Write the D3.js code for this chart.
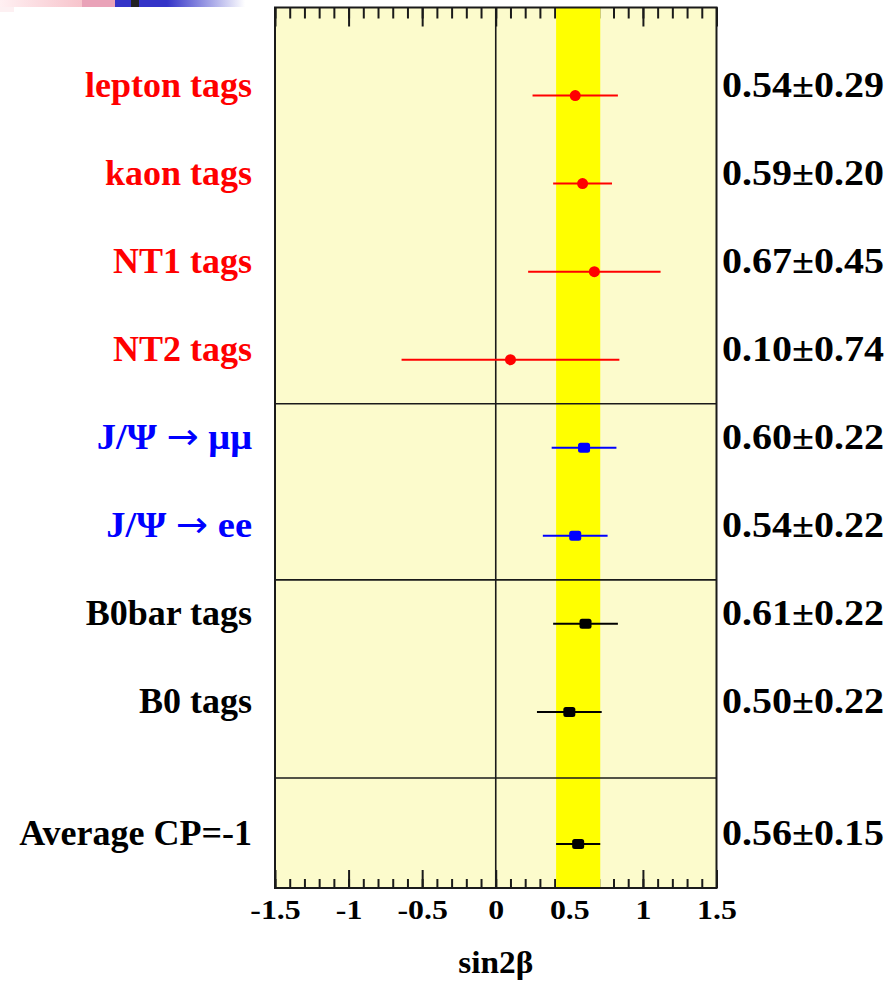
<!DOCTYPE html>
<html>
<head>
<meta charset="utf-8">
<script src="https://cdn.jsdelivr.net/npm/d3@7"></script>
<style>
  html, body { margin: 0; padding: 0; background: #ffffff; }
  svg { display: block; }
</style>
</head>
<body>
<svg id="chart" width="890" height="981"></svg>
<script>
// Measurements of sin2β by tagging category and sample
const labels = ["lepton tags", "kaon tags", "NT1 tags", "NT2 tags",
                "J/Ψ → μμ", "J/Ψ → ee", "B0bar tags", "B0 tags", "Average CP=-1"];
const centralValues = [0.54, 0.59, 0.67, 0.10, 0.60, 0.54, 0.61, 0.50, 0.56];
const errors        = [0.29, 0.20, 0.45, 0.74, 0.22, 0.22, 0.22, 0.22, 0.15];
const rowPositions  = [0, 1, 2, 3, 4, 5, 6, 7, 8.5];
const groups        = ["tag", "tag", "tag", "tag", "mode", "mode", "flavour", "flavour", "avg"];
const separators    = [3.5, 5.5, 7.75];
const tickValues    = [-1.5, -1, -0.5, 0, 0.5, 1, 1.5];
const tickLabels    = ["-1.5", "-1", "-0.5", "0", "0.5", "1", "1.5"];
const minorTicks    = d3.range(-15, 16).map(d => d / 10);
const averageIndex  = 8;

const groupColor = { tag: "#ff0000", mode: "#0000ff", flavour: "#000000", avg: "#000000" };
const SERIF = "'Liberation Serif', 'Times New Roman', 'DejaVu Serif', serif";

const svg = d3.select("#chart");

// slide header decoration
const defs = svg.append("defs");
const fade = defs.append("linearGradient").attr("id", "blueFade");
fade.append("stop").attr("offset", "0%").attr("stop-color", "#3434c8");
fade.append("stop").attr("offset", "40%").attr("stop-color", "#3434c8");
fade.append("stop").attr("offset", "100%").attr("stop-color", "#ffffff");
const pink = defs.append("linearGradient").attr("id", "pinkFade");
pink.append("stop").attr("offset", "0%").attr("stop-color", "#fff0f2");
pink.append("stop").attr("offset", "100%").attr("stop-color", "#f7c4cc");
svg.append("rect").attr("x", 0).attr("y", 0).attr("width", 82).attr("height", 7).attr("fill", "url(#pinkFade)");
svg.append("rect").attr("x", 82).attr("y", 0).attr("width", 33).attr("height", 7).attr("fill", "#e9a2b8");
svg.append("rect").attr("x", 0).attr("y", 7).attr("width", 14).attr("height", 5).attr("fill", "#fdf0f2");
svg.append("rect").attr("x", 115).attr("y", 0).attr("width", 130).attr("height", 7).attr("fill", "url(#blueFade)");
svg.append("rect").attr("x", 131).attr("y", 0).attr("width", 8).attr("height", 7).attr("fill", "#222222");

// plot frame
const x0 = 275, x1 = 716.5, y0 = 7.5, y1 = 888;
const x = d3.scaleLinear().domain([-1.5, 1.5]).range([x0, x1]);
const y = d3.scaleLinear().domain([-1, 9]).range([y0, y1]);

svg.append("rect")
  .attr("x", x0).attr("y", y0).attr("width", x1 - x0).attr("height", y1 - y0)
  .attr("fill", "#fcfbcc");

// tick marks along top and bottom
function drawTicks(axisFn, yPos, values, size, labelsOn) {
  const ax = axisFn(x).tickValues(values).tickSizeInner(-size).tickSizeOuter(0)
    .tickFormat(labelsOn ? ((d, i) => tickLabels[i]) : "");
  const g = svg.append("g").attr("transform", `translate(0,${yPos})`).call(ax);
  g.select(".domain").remove();
  g.selectAll(".tick line").attr("stroke", "#1a1a1a").attr("stroke-width", 2);
  return g;
}
drawTicks(d3.axisTop, y0, minorTicks, 11, false);
drawTicks(d3.axisTop, y0, tickValues, 19, false);
drawTicks(d3.axisBottom, y1, minorTicks, 9, false);
const bottomMajor = drawTicks(d3.axisBottom, y1, tickValues, 18, true);
bottomMajor.attr("font-family", null).attr("font-size", null);
bottomMajor.selectAll(".tick text")
  .attr("y", 31).attr("dy", 0)
  .attr("fill", "#000")
  .style("font-family", SERIF)
  .style("font-weight", "bold")
  .style("font-size", "27px")
  .each(function () {
    const w = this.getComputedTextLength();
    d3.select(this).attr("textLength", w * 1.18).attr("lengthAdjust", "spacingAndGlyphs");
  });

// average band
const avg = centralValues[averageIndex], avgErr = errors[averageIndex];
svg.append("rect")
  .attr("x", x(avg - avgErr)).attr("y", y0)
  .attr("width", x(avg + avgErr) - x(avg - avgErr)).attr("height", y1 - y0)
  .attr("fill", "#ffff00");

// zero line
svg.append("line")
  .attr("x1", x(0)).attr("x2", x(0)).attr("y1", y0).attr("y2", y1)
  .attr("stroke", "#1a1a1a").attr("stroke-width", 1.6);

// group separators
svg.selectAll(".sep").data(separators).enter().append("line")
  .attr("x1", x0).attr("x2", x1)
  .attr("y1", d => y(d)).attr("y2", d => y(d))
  .attr("stroke", "#1a1a1a").attr("stroke-width", 1.6);

// frame outline
svg.append("rect")
  .attr("x", x0).attr("y", y0).attr("width", x1 - x0).attr("height", y1 - y0)
  .attr("fill", "none").attr("stroke", "#1a1a1a").attr("stroke-width", 2);

// error bars and markers
const rows = labels.map((l, i) => ({
  label: l, v: centralValues[i], e: errors[i], pos: rowPositions[i], color: groupColor[groups[i]], group: groups[i]
}));

svg.selectAll(".err").data(rows).enter().append("line")
  .attr("x1", d => x(d.v - d.e)).attr("x2", d => x(d.v + d.e))
  .attr("y1", d => y(d.pos)).attr("y2", d => y(d.pos))
  .attr("stroke", d => d.color).attr("stroke-width", 2);

svg.selectAll(".dot").data(rows.filter(d => d.group === "tag")).enter().append("circle")
  .attr("cx", d => x(d.v)).attr("cy", d => y(d.pos)).attr("r", 5.5)
  .attr("fill", d => d.color);

svg.selectAll(".sq").data(rows.filter(d => d.group !== "tag")).enter().append("rect")
  .attr("x", d => x(d.v) - 6).attr("y", d => y(d.pos) - 5)
  .attr("width", 12).attr("height", 10).attr("rx", 2.5)
  .attr("fill", d => d.color);

// row labels; the arrow is set in a wider glyph and the decay labels are spread a little
const lbl = svg.selectAll(".lbl").data(rows).enter().append("text")
  .attr("x", 252).attr("y", d => y(d.pos) + 1)
  .attr("text-anchor", "end")
  .attr("fill", d => d.color)
  .style("font-family", SERIF)
  .style("font-weight", "bold").style("font-size", "36px");
lbl.each(function (d) {
  const t = d3.select(this);
  const parts = d.label.split("→");
  if (parts.length === 1) { t.text(d.label); return; }
  t.append("tspan").text(parts[0]);
  t.append("tspan").style("font-family", "'DejaVu Sans', sans-serif")
    .style("font-weight", "normal").text("→");
  t.append("tspan").text(parts[1]);
  const w = this.getComputedTextLength();
  t.attr("textLength", w * 1.07).attr("lengthAdjust", "spacingAndGlyphs");
});

// values
svg.selectAll(".val").data(rows).enter().append("text")
  .attr("x", 722).attr("y", d => y(d.pos) + 1)
  .attr("fill", "#000")
  .style("font-family", SERIF)
  .style("font-weight", "bold").style("font-size", "36px")
  .attr("textLength", 162).attr("lengthAdjust", "spacingAndGlyphs")
  .text(d => `${d.v.toFixed(2)}±${d.e.toFixed(2)}`);

// axis title
svg.append("text")
  .attr("x", x(0)).attr("y", 973)
  .attr("text-anchor", "middle")
  .attr("fill", "#000")
  .style("font-family", SERIF)
  .style("font-weight", "bold").style("font-size", "32px")
  .attr("textLength", 75).attr("lengthAdjust", "spacingAndGlyphs")
  .text("sin2β");
</script>
</body>
</html>
